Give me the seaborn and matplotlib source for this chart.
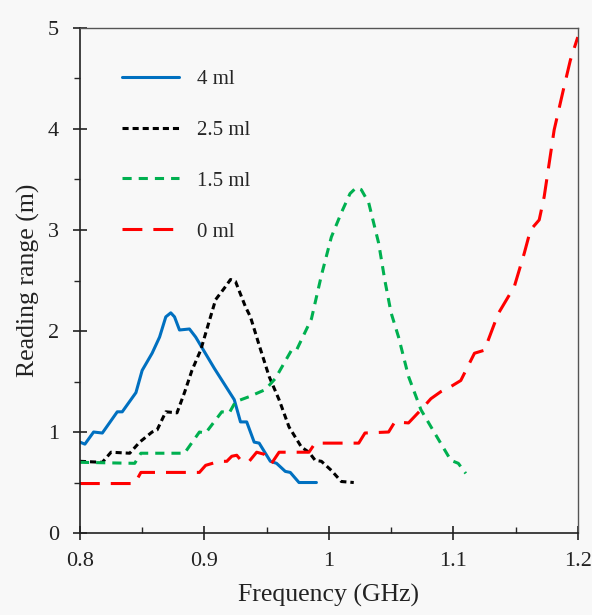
import matplotlib
matplotlib.use("Agg")
import matplotlib.pyplot as plt
import seaborn as sns
import pandas as pd
from matplotlib.ticker import FixedLocator, MultipleLocator

# ---- data ----
x_4ml = [0.800, 0.804, 0.811, 0.818, 0.830, 0.834, 0.845, 0.850, 0.858, 0.864, 0.869, 0.873, 0.876,
         0.880, 0.888, 0.893, 0.908, 0.924, 0.929, 0.934, 0.940, 0.944, 0.953, 0.958, 0.965, 0.969,
         0.976, 0.990]
y_4ml = [0.90, 0.88, 1.00, 0.99, 1.20, 1.20, 1.39, 1.61, 1.78, 1.94, 2.14, 2.18, 2.14,
         2.01, 2.02, 1.94, 1.63, 1.32, 1.10, 1.10, 0.90, 0.89, 0.71, 0.69, 0.61, 0.60,
         0.50, 0.50]

x_25ml = [0.800, 0.818, 0.825, 0.840, 0.848, 0.858, 0.862, 0.869, 0.878, 0.884, 0.890, 0.897, 0.909,
          0.917, 0.921, 0.925, 0.933, 0.937, 0.944, 0.952, 0.960, 0.968, 0.978, 0.984, 0.989, 0.994,
          1.002, 1.010, 1.020]
y_25ml = [0.71, 0.70, 0.80, 0.79, 0.90, 1.00, 1.02, 1.20, 1.19, 1.39, 1.61, 1.81, 2.31,
          2.44, 2.51, 2.49, 2.24, 2.14, 1.86, 1.55, 1.32, 1.05, 0.85, 0.80, 0.72, 0.71,
          0.62, 0.51, 0.50]

x_15ml = [0.800, 0.844, 0.849, 0.884, 0.896, 0.901, 0.914, 0.920, 0.925, 0.936, 0.949, 0.957, 0.970,
          0.974, 0.986, 0.994, 1.002, 1.010, 1.017, 1.022, 1.026, 1.032, 1.040, 1.045, 1.050, 1.056,
          1.064, 1.074, 1.085, 1.098, 1.104, 1.110]
y_15ml = [0.70, 0.69, 0.79, 0.79, 1.00, 0.99, 1.20, 1.19, 1.30, 1.35, 1.42, 1.53, 1.81,
          1.81, 2.12, 2.55, 2.93, 3.17, 3.36, 3.42, 3.40, 3.27, 2.87, 2.50, 2.18, 1.94,
          1.55, 1.22, 0.99, 0.72, 0.69, 0.59]

x_0ml = [0.800, 0.844, 0.849, 0.896, 0.901, 0.912, 0.918, 0.922, 0.926, 0.930, 0.936, 0.942, 0.948,
         0.954, 0.960, 0.984, 0.989, 1.024, 1.029, 1.048, 1.053, 1.064, 1.074, 1.082, 1.090, 1.098,
         1.106, 1.117, 1.125, 1.136, 1.149, 1.157, 1.162, 1.169, 1.173, 1.181, 1.189, 1.194, 1.200]
y_0ml = [0.49, 0.49, 0.60, 0.60, 0.67, 0.71, 0.71, 0.76, 0.77, 0.71, 0.71, 0.80, 0.78,
         0.69, 0.80, 0.80, 0.89, 0.89, 0.99, 1.00, 1.10, 1.09, 1.22, 1.33, 1.40, 1.45,
         1.51, 1.78, 1.81, 2.17, 2.44, 2.77, 3.00, 3.10, 3.33, 3.99, 4.42, 4.68, 4.91]

series_labels = ["4 ml", "2.5 ml", "1.5 ml", "0 ml"]
x_ticks = [0.8, 0.9, 1.0, 1.1, 1.2]
x_tick_labels = ["0.8", "0.9", "1", "1.1", "1.2"]
y_ticks = [0, 1, 2, 3, 4, 5]
y_tick_labels = ["0", "1", "2", "3", "4", "5"]

# ---- styling ----
sns.set_theme(style="ticks")
plt.rcParams["font.family"] = ["Liberation Serif", "DejaVu Serif"]

bg = "#f8f8f8"
fig = plt.figure(figsize=(5.92, 6.15), dpi=100, facecolor=bg)
ax = fig.add_axes([0.135, 0.1333, 0.841, 0.8212])
ax.set_facecolor(bg)

lw = 2.2
styles = [
    ("#0070C0", "-"),
    ("#000000", (0, (2.0, 1.3))),
    ("#00B050", (0, (3.0, 2.3))),
    ("#FF0000", (0, (6.5, 3.6))),
]
datasets = [(x_4ml, y_4ml), (x_25ml, y_25ml), (x_15ml, y_15ml), (x_0ml, y_0ml)]

for (xs, ys), lab, (col, ls) in zip(datasets, series_labels, styles):
    df = pd.DataFrame({"Frequency": xs, "Range": ys})
    sns.lineplot(data=df, x="Frequency", y="Range", ax=ax, color=col, linestyle=ls,
                 linewidth=lw, sort=False, estimator=None, label=lab)

ax.set_xlim(0.8, 1.2)
ax.set_ylim(0, 5)
ax.xaxis.set_major_locator(FixedLocator(x_ticks))
ax.set_xticklabels(x_tick_labels)
ax.yaxis.set_major_locator(FixedLocator(y_ticks))
ax.set_yticklabels(y_tick_labels)
ax.xaxis.set_minor_locator(MultipleLocator(0.05))
ax.yaxis.set_minor_locator(MultipleLocator(0.5))

ax.tick_params(axis="x", which="major", direction="inout", length=10, width=1.2,
               labelsize=16, pad=9, colors="#222222")
ax.tick_params(axis="x", which="minor", direction="in", length=4.5, width=1.0)
ax.tick_params(axis="y", which="major", direction="inout", length=10, width=1.2,
               labelsize=16, pad=10, colors="#222222")
ax.tick_params(axis="y", which="minor", direction="out", length=4.5, width=1.0)

for s in ax.spines.values():
    s.set_linewidth(1.2)
    s.set_color("#222222")
for s in ["top", "right"]:
    ax.spines[s].set_color("#555555")
    ax.spines[s].set_linewidth(1.0)

ax.set_xlabel("Frequency (GHz)", fontsize=18.5, labelpad=9, color="#222222")
ax.set_ylabel("Reading range (m)", fontsize=18.5, labelpad=6, color="#222222")

leg = ax.legend(loc="upper left", bbox_to_anchor=(0.047, 0.955), frameon=False,
                fontsize=15, handlelength=2.75, labelspacing=1.5, handletextpad=0.85,
                borderpad=0.4)

fig.savefig("out.png", dpi=100, facecolor=bg)
